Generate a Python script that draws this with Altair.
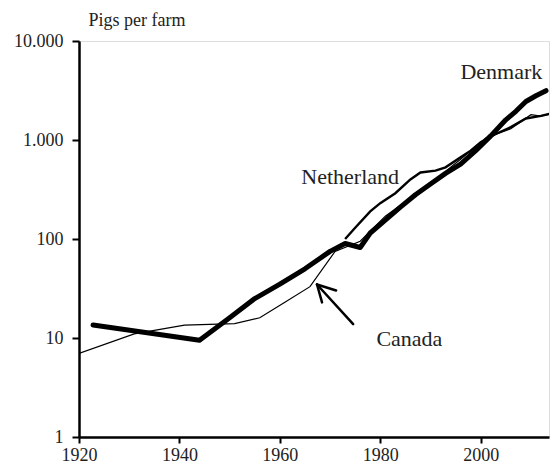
import altair as alt
import pandas as pd

# ---- data ----
den_years = [1922.8, 1944, 1950, 1955, 1960, 1965, 1970, 1973, 1976, 1978, 1981, 1984, 1987, 1990, 1993, 1996, 1999, 2002, 2005, 2007, 2009, 2011, 2013]
den_vals = [13.5, 9.5, 16, 25, 35, 50, 75, 90, 82, 115, 155, 210, 280, 360, 460, 570, 780, 1100, 1600, 1950, 2450, 2800, 3150]

ned_years = [1973, 1975, 1978, 1980, 1983, 1986, 1988, 1991, 1993, 1996, 1998, 2000, 2003, 2006, 2009, 2012, 2015]
ned_vals = [100, 130, 190, 230, 290, 400, 470, 490, 530, 670, 780, 950, 1150, 1350, 1650, 1750, 1900]

can_years = [1920, 1931, 1941, 1951, 1956, 1961, 1966, 1971, 1976, 1981, 1986, 1991, 1996, 2001, 2006, 2010, 2012, 2015]
can_vals = [7, 11, 13.5, 14, 16, 23, 33, 75, 95, 170, 260, 400, 640, 1050, 1300, 1800, 1740, 1900]

label_names = ["Denmark", "Netherland", "Canada"]
label_years = [2004.1, 1974.0, 1985.8]
label_vals = [4170, 363, 8.3]

# arrow pointing to the Canada line (segments: shaft, two wings)
arrow_seg = ["shaft", "shaft", "w1", "w1", "w2", "w2"]
arrow_years = [1974.6, 1967.4, 1967.4, 1968.4, 1967.4, 1971.2]
arrow_vals = [13.8, 34.7, 34.7, 22.9, 34.7, 30.2]
arrow_ord = [0, 1, 0, 1, 0, 1]

x_ticks = [1920, 1940, 1960, 1980, 2000]
y_ticks = [1, 10, 100, 1000, 10000]

FONT = "Liberation Serif"
TXT = "#222222"

den = pd.DataFrame({"year": den_years, "value": den_vals})
ned = pd.DataFrame({"year": ned_years, "value": ned_vals})
can = pd.DataFrame({"year": can_years, "value": can_vals})
labels = pd.DataFrame({"name": label_names, "year": label_years, "value": label_vals})
arrow = pd.DataFrame({"seg": arrow_seg, "year": arrow_years, "value": arrow_vals, "o": arrow_ord})

xs = alt.Scale(domain=[1920, 2013.6], nice=False, zero=False)
ys = alt.Scale(type="log", domain=[1, 10000], nice=False)

x_axis = alt.Axis(values=x_ticks, format="d", title=None, grid=False, labelFlush=False,
                  labelFont=FONT, labelFontSize=18, labelColor=TXT, labelPadding=3,
                  tickSize=6, tickWidth=2, tickColor="black",
                  domainColor="black", domainWidth=2.5)
y_axis = alt.Axis(values=y_ticks, title="Pigs per farm", grid=False,
                  labelExpr="replace(format(datum.value, ','), ',', '.')",
                  labelFont=FONT, labelFontSize=18, labelColor=TXT, labelPadding=9,
                  tickSize=7, tickWidth=2, tickColor="black",
                  domainColor="black", domainWidth=2.5,
                  titleAngle=0, titleAlign="left", titleBaseline="alphabetic",
                  titleX=9, titleY=-16, titleFont=FONT, titleFontSize=18,
                  titleFontWeight="normal", titleColor=TXT)

X = alt.X("year:Q", scale=xs, axis=x_axis)
Y = alt.Y("value:Q", scale=ys, axis=y_axis)
Xn = alt.X("year:Q", scale=xs)
Yn = alt.Y("value:Q", scale=ys)

can_line = alt.Chart(can).mark_line(color="black", strokeWidth=1.2, clip=True).encode(x=X, y=Y)
ned_line = alt.Chart(ned).mark_line(color="black", strokeWidth=2.4, clip=True).encode(x=Xn, y=Yn)
den_line = alt.Chart(den).mark_line(color="black", strokeWidth=5, strokeCap="round",
                                    strokeJoin="round", clip=True).encode(x=Xn, y=Yn)

arrow_lines = alt.Chart(arrow).mark_line(color="black", strokeWidth=2.5, strokeCap="round").encode(
    x=Xn, y=Yn, detail="seg:N", order="o:Q")

text = alt.Chart(labels).mark_text(font=FONT, fontSize=22, color=TXT, align="center",
                                    baseline="alphabetic").encode(x=Xn, y=Yn, text="name:N")

chart = alt.layer(can_line, ned_line, den_line, arrow_lines, text).properties(
    width=470, height=396,
    autosize="none",
    padding={"left": 71, "top": 33, "right": 1, "bottom": 27},
).configure_view(stroke="black", strokeWidth=1.5).configure(
    background="white", font=FONT
).configure_axis(labelFont=FONT, titleFont=FONT).configure_text(font=FONT)

chart.save("out.html", embed_options={"renderer": "svg", "actions": False})
